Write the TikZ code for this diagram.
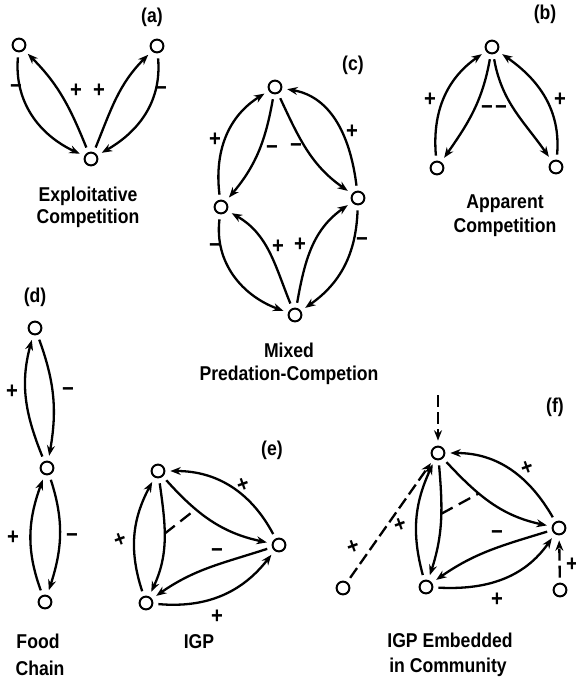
\documentclass[tikz,border=0pt]{standalone}
\usepackage{fontspec}
\newfontfamily\capfam{Liberation Sans}[FakeStretch=0.88]
\usetikzlibrary{arrows.meta}
\newcommand\capfont{\capfam\bfseries\fontsize{10}{12}\selectfont}
\newcommand\sgnfont{\capfam\bfseries\fontsize{11.5}{12}\selectfont}
\begin{document}
\begin{tikzpicture}[x=0.5pt,y=0.5pt,
  sp/.style={circle, draw, line width=1pt, minimum size=6.4pt, inner sep=0pt, outer sep=3pt},
  arr/.style={line width=1.15pt, -{Stealth[length=5.2pt,width=4pt]}},
  dsh/.style={arr, dash pattern=on 6pt off 2.5pt},
  dline/.style={line width=1.15pt, dash pattern=on 6.5pt off 3.5pt},
  sgn/.style={font=\sgnfont, inner sep=0pt},
  xsgn/.style={sgn, rotate=20},
  captxt/.style={font=\capfont, anchor=base, inner sep=0pt},
  lbl/.style={font=\capfont, inner sep=0pt}]
\useasboundingbox (0,0) rectangle (576,-677);

% ---------- (a) ----------
\node[lbl] (la) at (152,-17) {(a)};
\node[sp] (A1) at (19,-45) {};
\node[sp] (A2) at (157,-46) {};
\node[sp] (A3) at (91,-159) {};
\draw[arr] (A1) to[out=-95,in=155] (A3);
\draw[arr] (A3) to[out=112,in=-45] (A1);
\draw[arr] (A2) to[out=-85,in=30] (A3);
\draw[arr] (A3) to[out=68,in=-135] (A2);
\node[sgn] (sa1) at (16,-89) {−};
\node[sgn] (sa2) at (76,-91) {+};
\node[sgn] (sa3) at (99,-91) {+};
\node[sgn] (sa4) at (161,-91) {−};
\node[captxt] (ca1) at (88,-201) {Exploitative};
\node[captxt] (ca2) at (88,-223) {Competition};

% ---------- (b) ----------
\node[lbl] (lb) at (545,-14) {(b)};
\node[sp] (B1) at (492,-47) {};
\node[sp] (B2) at (437,-168) {};
\node[sp] (B3) at (556,-167) {};
\draw[arr] (B2) to[out=95,in=-145] (B1);
\draw[arr] (B1) to[out=-100,in=55] (B2);
\draw[arr] (B3) to[out=85,in=-35] (B1);
\draw[arr] (B1) to[out=-80,in=125] (B3);
\node[sgn] (sb1) at (430,-100) {+};
\node[sgn] (sb2) at (560,-100) {+};
\node[sgn] (sb3) at (487,-110) {−};
\node[sgn] (sb4) at (501,-110) {−};
\node[captxt] (cb1) at (505,-208) {Apparent};
\node[captxt] (cb2) at (505,-232) {Competition};

% ---------- (c) ----------
\node[lbl] (lc) at (353,-65) {(c)};
\node[sp] (C1) at (275,-87) {};
\node[sp] (C2) at (221,-207) {};
\node[sp] (C3) at (358,-198) {};
\node[sp] (C4) at (295,-315) {};
\draw[arr] (C2) to[out=97,in=-148] (C1);
\draw[arr] (C1) to[out=-100,in=50] (C2);
\draw[arr] (C3) to[out=97,in=-10] (C1);
\draw[arr] (C1) to[out=-65,in=145] (C3);
\draw[arr] (C2) to[out=-97,in=160] (C4);
\draw[arr] (C4) to[out=112,in=-30] (C2);
\draw[arr] (C4) to[out=80,in=-145] (C3);
\draw[arr] (C3) to[out=-92,in=35] (C4);
\node[sgn] (sc1) at (215,-140) {+};
\node[sgn] (sc2) at (272,-150) {−};
\node[sgn] (sc3) at (296,-148) {−};
\node[sgn] (sc4) at (352,-132) {+};
\node[sgn] (sc5) at (215,-248) {−};
\node[sgn] (sc6) at (278,-247) {+};
\node[sgn] (sc7) at (300,-245) {+};
\node[sgn] (sc8) at (362,-242) {−};
\node[captxt] (cc1) at (289,-357) {Mixed};
\node[captxt] (cc2) at (289,-380) {Predation-Competion};

% ---------- (d) ----------
\node[lbl] (ld) at (35,-297) {(d)};
\node[sp] (D1) at (35,-328) {};
\node[sp] (D2) at (47,-468) {};
\node[sp] (D3) at (45,-602) {};
\draw[arr] (D2) to[out=112,in=-105] (D1);
\draw[arr] (D1) to[out=-70,in=80] (D2);
\draw[arr] (D3) to[out=110,in=-110] (D2);
\draw[arr] (D2) to[out=-72,in=72] (D3);
\node[sgn] (sd1) at (12,-392) {+};
\node[sgn] (sd2) at (68,-392) {−};
\node[sgn] (sd3) at (13,-538) {+};
\node[sgn] (sd4) at (72,-538) {−};
\node[captxt] (cd1) at (38,-648) {Food};
\node[captxt] (cd2) at (40,-675) {Chain};

% ---------- (e) ----------
\node[lbl] (le) at (272,-450) {(e)};
\node[sp] (E1) at (158,-471) {};
\node[sp] (E2) at (279,-545) {};
\node[sp] (E3) at (146,-603) {};
\draw[arr] (E2) to[out=118,in=0] (E1);
\draw[arr] (E1) to[out=-48,in=168] coordinate[pos=0.33] (e2) (E2);
\draw[arr] (E3) to[out=108,in=-118] (E1);
\draw[arr] (E1) to[out=-82,in=65] coordinate[pos=0.45] (e1) (E3);
\draw[arr] (E2) to[out=-162,in=35] (E3);
\draw[arr] (E3) to[out=-5,in=-128] (E2);
\draw[dline] (e1) -- (e2);
\node[xsgn] (se1) at (243,-485) {+};
\node[xsgn] (se2) at (120,-540) {+};
\node[sgn] (se3) at (217,-553) {−};
\node[sgn] (se4) at (217,-617) {+};
\node[captxt] (ce1) at (199,-648) {IGP};

% ---------- (f) ----------
\node[lbl] (lf) at (555,-407) {(f)};
\node[sp] (F1) at (438,-453) {};
\node[sp] (F2) at (559,-528) {};
\node[sp] (F3) at (426,-587) {};
\node[sp] (F4) at (343,-588) {};
\node[sp] (F5) at (560,-590) {};
\coordinate (F0) at (438,-395);
\draw[arr] (F2) to[out=120,in=0] (F1);
\draw[arr] (F1) to[out=-47,in=168] coordinate[pos=0.36] (f2) (F2);
\draw[arr] (F3) to[out=105,in=-115] (F1);
\draw[arr] (F1) to[out=-85,in=72] coordinate[pos=0.43] (f1) (F3);
\draw[arr] (F2) to[out=-163,in=35] (F3);
\draw[arr] (F3) to[out=-3,in=-125] (F2);
\draw[dline] (f1) -- (f2);
\draw[dsh] (F0) -- (F1);
\draw[dsh] (F4) -- (F1);
\draw[dsh] (F5) -- (F2);
\node[xsgn] (sf1) at (527,-468) {+};
\node[xsgn] (sf2) at (400,-525) {+};
\node[xsgn] (sf3) at (353,-547) {+};
\node[sgn] (sf4) at (497,-535) {−};
\node[sgn] (sf5) at (497,-600) {+};
\node[sgn] (sf6) at (572,-565) {+};
\node[captxt] (cf1) at (450,-647) {IGP Embedded};
\node[captxt] (cf2) at (448,-672) {in Community};
\end{tikzpicture}
\end{document}
